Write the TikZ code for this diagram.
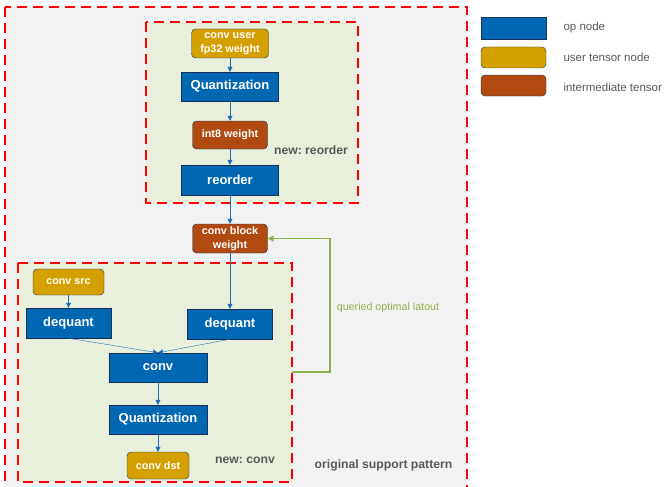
\documentclass[tikz,border=0pt]{standalone}
\usepackage{fontspec}
\setmainfont{Liberation Sans}
\usetikzlibrary{arrows.meta}
\definecolor{opblue}{RGB}{0,103,179}
\definecolor{edgeblue}{RGB}{22,50,92}
\definecolor{usergold}{RGB}{212,160,0}
\definecolor{midbrown}{RGB}{176,74,16}
\definecolor{flowblue}{RGB}{30,110,185}
\definecolor{paleback}{RGB}{242,242,242}
\definecolor{palegreen}{RGB}{232,240,220}
\definecolor{loopgreen}{RGB}{141,176,79}
\definecolor{labelgray}{RGB}{89,89,89}
\frenchspacing

\begin{document}
\begin{tikzpicture}[x=1pt,y=-1pt,
    opnode/.style={draw=edgeblue,fill=opblue,text=white,inner sep=0pt,
      font=\bfseries\fontsize{13}{15}\selectfont},
    usernode/.style={draw=edgeblue,fill=usergold,rounded corners=4pt,text=white,
      inner sep=0pt,align=center,font=\bfseries\fontsize{10.8}{14}\selectfont},
    midnode/.style={usernode,fill=midbrown},
    flow/.style={draw=flowblue,-{Triangle[length=5pt,width=5pt]}},
    feedback/.style={draw=loopgreen,line width=1.5pt,-{Triangle[length=6pt,width=6pt]}},
    region/.style={draw=red,line width=2pt,dash pattern=on 10pt off 6pt},
    note/.style={text=labelgray,font=\bfseries\fontsize{12.2}{14}\selectfont},
    legendtext/.style={anchor=west,text=labelgray,font=\fontsize{11.5}{13}\selectfont}]
      \clip (0,0) rectangle (669,487);
      \useasboundingbox (0,0) rectangle (669,487);
      \fill[paleback] (5,7) rectangle (467,500);
      \draw[region] (5,7) rectangle (467,500);
      \fill[palegreen] (146,22) rectangle (358,203);
      \draw[region] (146,22) rectangle (358,203);
      \fill[palegreen] (18,263) rectangle (292,482);
      \draw[region] (18,263) rectangle (292,482);

      \node[usernode,minimum width=77pt,minimum height=29pt] (userw) at (230,43.5) {conv user\\fp32 weight};
      \node[opnode,minimum width=97pt,minimum height=29pt] (quanttop) at (230,86.5) {Quantization};
      \node[midnode,minimum width=75pt,minimum height=28pt] (int8w) at (230,135) {int8 weight};
      \node[opnode,minimum width=97pt,minimum height=30pt] (reorder) at (230,180) {reorder};
      \node[note] (reordernote) at (311,150) {new: reorder};
      \node[midnode,minimum width=75pt,minimum height=29pt] (blockw) at (230,238.5) {conv block\\weight};

      \node[usernode,minimum width=71pt,minimum height=26pt] (src) at (68.5,282) {conv src};
      \node[opnode,minimum width=85pt,minimum height=30pt] (dqsrc) at (68.5,323) {dequant};
      \node[opnode,minimum width=85pt,minimum height=30pt] (dqwei) at (230,324) {dequant};
      \node[opnode,minimum width=98pt,minimum height=29pt] (conv) at (158,367.5) {conv};
      \node[opnode,minimum width=98pt,minimum height=29pt] (quantbot) at (158,419.5) {Quantization};
      \node[usernode,minimum width=62pt,minimum height=27pt] (dst) at (158,465.5) {conv dst};
      \node[note] (convnote) at (245,460) {new: conv};
      \node[note] (origin) at (383.5,465) {original support pattern};

      \draw[flow] (userw) -- (quanttop);
      \draw[flow] (quanttop) -- (int8w);
      \draw[flow] (int8w) -- (reorder);
      \draw[flow] (reorder) -- (blockw);
      \draw[flow] (blockw) -- (dqwei);
      \draw[flow] (src) -- (dqsrc);
      \draw[flow] (dqsrc.south) -- (conv.north);
      \draw[flow] (dqwei.south) -- (conv.north);
      \draw[flow] (conv) -- (quantbot);
      \draw[flow] (quantbot) -- (dst);

      \coordinate (loopstart) at (292,372);
      \draw[feedback] (loopstart) -- (330,372) |- (blockw.east);
      \node[text=loopgreen,font=\fontsize{10.7}{12}\selectfont] (looplabel) at (388,308) {queried optimal latout};

      \node[draw=edgeblue,fill=opblue,minimum width=65pt,minimum height=22pt] (legop) at (513.5,28) {};
      \node[draw=edgeblue,fill=usergold,rounded corners=4pt,minimum width=65pt,minimum height=21pt] (leguser) at (513.5,57.5) {};
      \node[draw=edgeblue,fill=midbrown,rounded corners=4pt,minimum width=65pt,minimum height=21pt] (legmid) at (513.5,85.5) {};
      \node[legendtext] (legoptext) at (560,28) {op node};
      \node[legendtext] (legusertext) at (560,57) {user tensor node};
      \node[legendtext] (legmidtext) at (560,87) {intermediate tensor};
    \end{tikzpicture}
\end{document}
